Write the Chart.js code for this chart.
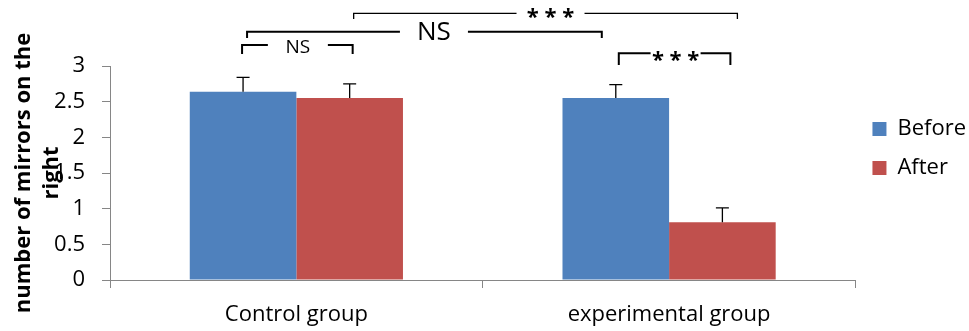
<!DOCTYPE html>
<html>
<head>
<meta charset="utf-8">
<script src="https://cdn.jsdelivr.net/npm/chart.js@4.4.0/dist/chart.umd.min.js"></script>
<style>
  html, body { margin: 0; padding: 0; background: #fff; }
</style>
</head>
<body>
<canvas id="chart" width="969" height="331"></canvas>
<script>
// data
const groups = ['Control group', 'experimental group'];
const seriesNames = ['Before', 'After'];
const beforeValues = [2.64, 2.55];
const afterValues = [2.55, 0.81];
const beforeErrors = [0.2, 0.19];
const afterErrors = [0.2, 0.2];
const yTicks = [0, 0.5, 1, 1.5, 2, 2.5, 3];

// significance brackets: [dataset, group] -> [dataset, group]
const bracketFrom = [[0, 0], [0, 0], [1, 0], [0, 1]];
const bracketTo = [[1, 0], [0, 1], [1, 1], [1, 1]];
const bracketLabels = ['NS', 'NS', '* * *', '* * *'];

// how each bracket is drawn (levels in axis units, nudges in px)
const bracketLook = [
  { top: 3.294, leg: 3.168, dx1: -1, dx2: 3, tx: 0.5, gap: 60, dy: 3, size: 19, bold: false, lw: 2 },
  { top: 3.481, leg: 3.393, dx1: 4, dx2: -14, tx: 9.5, gap: 68, dy: 1, size: 26, bold: false, lw: 2 },
  { top: 3.739, leg: 3.659, dx1: 4, dx2: 15, tx: 5, gap: 68, dy: 4, size: 22, bold: true, lw: 1.3 },
  { top: 3.178, leg: 3.014, dx1: 3, dx2: 8, tx: 1, gap: 50, dy: 7, size: 22, bold: true, lw: 2 }
];

Chart.defaults.font.family = '"Open Sans", sans-serif';
Chart.defaults.color = '#000';

const errorBars = {
  id: 'errorBars',
  afterDatasetsDraw(chart) {
    const { ctx, scales: { y } } = chart;
    ctx.save();
    ctx.strokeStyle = '#000';
    ctx.lineWidth = 1.3;
    chart.data.datasets.forEach((ds, i) => {
      chart.getDatasetMeta(i).data.forEach((bar, j) => {
        const yTop = y.getPixelForValue(ds.data[j] + ds.errors[j]);
        const yBar = y.getPixelForValue(ds.data[j]);
        ctx.beginPath();
        ctx.moveTo(bar.x, yBar);
        ctx.lineTo(bar.x, yTop);
        ctx.moveTo(bar.x - 6.5, yTop);
        ctx.lineTo(bar.x + 6.5, yTop);
        ctx.stroke();
      });
    });
    ctx.restore();
  }
};

const brackets = {
  id: 'brackets',
  afterDraw(chart) {
    const { ctx, scales: { y } } = chart;
    ctx.save();
    ctx.strokeStyle = '#000';
    ctx.fillStyle = '#000';
    ctx.textAlign = 'center';
    ctx.textBaseline = 'middle';
    bracketLabels.forEach((label, k) => {
      const look = bracketLook[k];
      const a = chart.getDatasetMeta(bracketFrom[k][0]).data[bracketFrom[k][1]];
      const b = chart.getDatasetMeta(bracketTo[k][0]).data[bracketTo[k][1]];
      const x1 = a.x + look.dx1;
      const x2 = b.x + look.dx2;
      const yTop = y.getPixelForValue(look.top);
      const yLeg = y.getPixelForValue(look.leg);
      const xt = (x1 + x2) / 2 + look.tx;
      ctx.lineWidth = look.lw;
      ctx.beginPath();
      ctx.moveTo(x1, yLeg);
      ctx.lineTo(x1, yTop);
      ctx.lineTo(xt - look.gap / 2, yTop);
      ctx.moveTo(xt + look.gap / 2, yTop);
      ctx.lineTo(x2, yTop);
      ctx.lineTo(x2, yLeg);
      ctx.stroke();
      ctx.font = (look.bold ? 'bold ' : '') + look.size + 'px "Open Sans", sans-serif';
      ctx.fillText(label, xt, yTop + look.dy);
    });
    ctx.restore();
  }
};

new Chart(document.getElementById('chart'), {
  type: 'bar',
  data: {
    labels: groups,
    datasets: [
      { label: seriesNames[0], data: beforeValues, errors: beforeErrors, backgroundColor: '#4F81BD' },
      { label: seriesNames[1], data: afterValues, errors: afterErrors, backgroundColor: '#C0504D' }
    ]
  },
  options: {
    responsive: false,
    animation: false,
    devicePixelRatio: 1,
    layout: { padding: { top: 66, right: -7, bottom: 0, left: 0 } },
    datasets: { bar: { categoryPercentage: 0.572, barPercentage: 1 } },
    scales: {
      x: {
        grid: { drawOnChartArea: false, tickLength: 8, color: '#868686' },
        border: { color: '#868686' },
        ticks: { font: { size: 22 }, padding: 14 },
        afterFit: s => { s.height = 51; }
      },
      y: {
        min: 0,
        max: 3,
        afterBuildTicks: s => { s.ticks = yTicks.map(v => ({ value: v })); },
        grid: { drawOnChartArea: false, tickLength: 8, color: '#868686' },
        border: { color: '#868686' },
        ticks: { font: { size: 22 }, padding: 17, callback: v => String(v) },
        title: {
          display: true,
          text: ['number of mirrors on the', 'right'],
          font: { size: 22, weight: 'bold', lineHeight: 1.27 },
          padding: { top: 10, bottom: 0 }
        },
        afterFit: s => { s.width = 110; }
      }
    },
    plugins: {
      legend: {
        position: 'right',
        align: 'start',
        title: { display: true, text: '', padding: { top: 0, bottom: 34 }, font: { size: 1, lineHeight: 1 } },
        labels: { boxWidth: 14, boxHeight: 14, padding: 17, font: { size: 22 } }
      },
      tooltip: { enabled: false }
    }
  },
  plugins: [errorBars, brackets]
});
</script>
</body>
</html>
